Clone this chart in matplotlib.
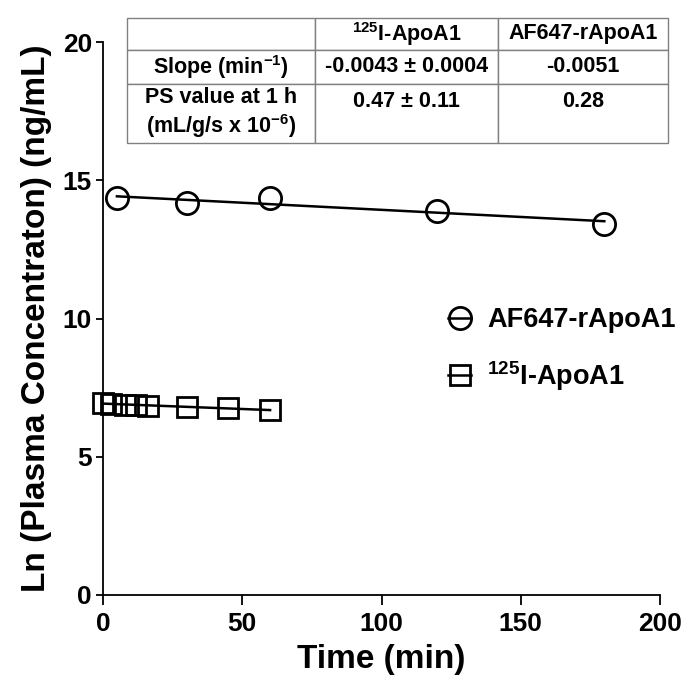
import numpy as np
import matplotlib
matplotlib.use('Agg')
import matplotlib.pyplot as plt

plt.rcParams['font.family'] = ['Liberation Sans', 'DejaVu Sans']
plt.rcParams['font.weight'] = 'bold'
plt.rcParams['mathtext.fontset'] = 'custom'
plt.rcParams['mathtext.rm'] = 'Liberation Sans:bold'
plt.rcParams['mathtext.bf'] = 'Liberation Sans:bold'
plt.rcParams['mathtext.it'] = 'Liberation Sans:bold'
plt.rcParams['mathtext.default'] = 'rm'

# AF647-rApoA1 (circles)
t_af = [5, 30, 60, 120, 180]
ln_af = [14.35, 14.17, 14.35, 13.90, 13.42]

# 125I-ApoA1 (squares)
t_i = [0, 3, 8, 12, 16, 30, 45, 60]
ln_i = [6.94, 6.92, 6.88, 6.86, 6.85, 6.81, 6.75, 6.69]

lab_af = 'AF647-rApoA1'
lab_i = '$^{125}$I-ApoA1'

table_rows = [
    ['', '$^{125}$I-ApoA1', 'AF647-rApoA1'],
    ['Slope (min$^{-1}$)', '-0.0043 ± 0.0004', '-0.0051'],
    ['PS value at 1 h\n(mL/g/s x 10$^{-6}$)', '0.47 ± 0.11\n ', '0.28\n '],
]

W, H = 689, 685
fig = plt.figure(figsize=(W / 100, H / 100), dpi=100)
ax = fig.add_axes([103 / W, 1 - 595 / H, 557 / W, 553 / H])

def fit_line(t, y):
    p = np.polyfit(t, y, 1)
    tt = np.array([min(t), max(t)])
    return tt, np.polyval(p, tt)

for t, y, m, ms, lab in [(t_af, ln_af, 'o', 16, lab_af), (t_i, ln_i, 's', 15, lab_i)]:
    tt, yy = fit_line(t, y)
    ax.plot(tt, yy, color='black', lw=1.8, clip_on=False)
    ax.plot(t, y, ls='none', marker=m, ms=ms, mfc='none', mec='black',
            mew=2.0, clip_on=False)
    # legend handle: marker with short line through it
    ax.plot([], [], color='black', lw=1.8, marker=m, ms=ms, mfc='none',
            mec='black', mew=2.0, label=lab)

ax.set_xlim(0, 200)
ax.set_ylim(0, 20)
ax.set_xticks([0, 50, 100, 150, 200])
ax.set_yticks([0, 5, 10, 15, 20])
for s in ['top', 'right']:
    ax.spines[s].set_visible(False)
for s in ['left', 'bottom']:
    ax.spines[s].set_linewidth(1.3)
ax.tick_params(axis='x', length=7, width=1.3, labelsize=19, pad=5)
ax.tick_params(axis='y', length=5, width=1.3, labelsize=19, pad=3)
ax.set_xlabel('Time (min)', fontsize=24, fontweight='bold', labelpad=6)
ax.set_ylabel('Ln (Plasma Concentraton) (ng/mL)', fontsize=24,
              fontweight='bold', labelpad=8)

ax.legend(loc='upper left', bbox_to_anchor=(448 / W, 1 - 307 / H),
          bbox_transform=fig.transFigure, frameon=False, fontsize=19.5,
          handlelength=0.85, handletextpad=0.6, labelspacing=0.95,
          borderpad=0, borderaxespad=0)

# summary table
tax = fig.add_axes([127 / W, 1 - 143 / H, (668 - 127) / W, (143 - 18) / H])
tax.axis('off')
tbl = tax.table(cellText=table_rows, cellLoc='center', bbox=[0, 0, 1, 1])
tbl.auto_set_font_size(False)
col_w = [188, 183, 170]
row_h = [32, 34, 59]
for (r, c), cell in tbl.get_celld().items():
    cell.set_width(col_w[c])
    cell.set_height(row_h[r])
    cell.set_edgecolor('#808080')
    cell.set_linewidth(1.0)
    cell.get_text().set_fontsize(15.5)
    cell.get_text().set_fontweight('bold')
    cell.get_text().set_linespacing(1.15)

fig.savefig('out.png', dpi=100)
